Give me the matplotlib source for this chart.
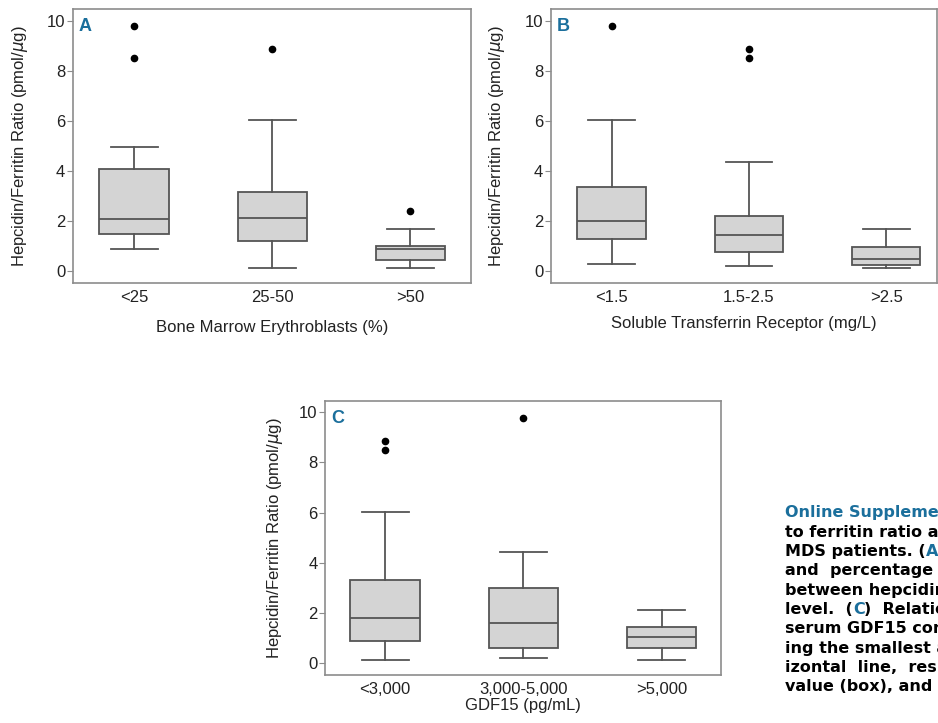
import matplotlib.pyplot as plt
from matplotlib import font_manager
import numpy as np

# Hepcidin/ferritin ratio by subgroup, three box plots (A, B, C) + caption fragment

ylabel = 'Hepcidin/Ferritin Ratio (pmol/$\\mu$g)'

# panel A - bone marrow erythroblasts
a_cats = ['<25', '25-50', '>50']
a_q1 = [1.49, 1.21, 0.44]
a_med = [2.09, 2.13, 0.87]
a_q3 = [4.06, 3.16, 0.99]
a_lo = [0.89, 0.13, 0.13]
a_hi = [4.95, 6.03, 1.70]
a_fliers = [[9.79, 8.50], [8.88], [2.40]]

# panel B - soluble transferrin receptor
b_cats = ['<1.5', '1.5-2.5', '>2.5']
b_q1 = [1.30, 0.75, 0.24]
b_med = [2.02, 1.46, 0.47]
b_q3 = [3.34, 2.21, 0.96]
b_lo = [0.29, 0.20, 0.13]
b_hi = [6.03, 4.37, 1.70]
b_fliers = [[9.79], [8.88, 8.50], []]

# panel C - GDF15
c_cats = ['<3,000', '3,000-5,000', '>5,000']
c_q1 = [0.90, 0.60, 0.60]
c_med = [1.82, 1.62, 1.04]
c_q3 = [3.32, 3.01, 1.43]
c_lo = [0.13, 0.21, 0.13]
c_hi = [6.02, 4.42, 2.11]
c_fliers = [[8.87, 8.50], [9.77], []]

BLUE = '#1b6f9c'
LINE = '#555555'
FILL = '#d4d4d4'
FRAME = '#8c8c8c'

# narrow font if there is one, else shrink the regular one
installed = {f.name for f in font_manager.fontManager.ttflist}
if 'Liberation Sans Narrow' in installed:
    FONT = 'Liberation Sans Narrow'
    TICK_FS, LABEL_FS, LETTER_FS = 14.5, 14.4, 16
else:
    FONT = 'Liberation Sans'
    TICK_FS, LABEL_FS, LETTER_FS = 12, 12, 13

plt.rcParams['font.family'] = [FONT, 'DejaVu Sans']


def panel(ax, cats, q1, med, q3, lo, hi, fliers, letter, xlabel, xlim, labelpad, ypad):
    stats = []
    for i in range(len(cats)):
        stats.append(dict(med=med[i], q1=q1[i], q3=q3[i], whislo=lo[i],
                          whishi=hi[i], fliers=fliers[i], label=cats[i]))
    ax.bxp(stats, positions=[1, 2, 3], widths=0.5, patch_artist=True,
           boxprops=dict(facecolor=FILL, edgecolor=LINE, linewidth=1.3),
           medianprops=dict(color=LINE, linewidth=1.3),
           whiskerprops=dict(color=LINE, linewidth=1.3),
           capprops=dict(color=LINE, linewidth=1.3), capwidths=0.34,
           flierprops=dict(marker='o', markerfacecolor='black',
                           markeredgecolor='black', markersize=4.5))
    ax.set_xlim(*xlim)
    ax.set_ylim(-0.47, 10.45)
    ax.set_yticks([0, 2, 4, 6, 8, 10])
    ax.set_ylabel(ylabel, fontsize=LABEL_FS, color='#222222', labelpad=ypad)
    ax.set_xlabel(xlabel, fontsize=LABEL_FS, color='#222222', labelpad=labelpad)
    ax.tick_params(axis='both', labelsize=TICK_FS, colors='#222222', length=4,
                   width=0.8, color=FRAME, pad=1.5)
    ax.tick_params(axis='x', length=0, pad=5)
    for s in ax.spines.values():
        s.set_color(FRAME)
        s.set_linewidth(1.2)
    ax.text(0.015, 0.968, letter, transform=ax.transAxes, fontsize=LETTER_FS,
            fontweight='bold', color=BLUE, va='top', ha='left')


fig = plt.figure(figsize=(9.38, 7.23), dpi=100)

ax_a = fig.add_axes([0.0778, 0.6086, 0.4244, 0.3786])
panel(ax_a, a_cats, a_q1, a_med, a_q3, a_lo, a_hi, a_fliers, 'A',
      'Bone Marrow Erythroblasts (%)', (0.558, 3.44), 11, 12)

ax_b = fig.add_axes([0.5874, 0.6086, 0.4115, 0.3786])
panel(ax_b, b_cats, b_q1, b_med, b_q3, b_lo, b_hi, b_fliers, 'B',
      'Soluble Transferrin Receptor (mg/L)', (0.558, 3.37), 8, 13)

ax_c = fig.add_axes([0.3465, 0.0664, 0.4222, 0.3790])
panel(ax_c, c_cats, c_q1, c_med, c_q3, c_lo, c_hi, c_fliers, 'C',
      'GDF15 (pg/mL)', (0.566, 3.43), 1, 10)

# caption fragment, cut off by the right edge of the page
ov = fig.add_axes([0, 0, 1, 1])
ov.axis('off')
ov.set_xlim(0, 938)
ov.set_ylim(723, 0)

cap_x = 785
cap_y0 = 513
cap_dy = 19.3
cap_kw = dict(fontsize=11.5, fontweight='bold', family=['DejaVu Sans'],
              va='center', ha='left')

ov.text(cap_x, cap_y0, 'Online Supplementary Figure', color=BLUE, **cap_kw)
ov.text(cap_x, cap_y0 + cap_dy, 'to ferritin ratio and', color='black', **cap_kw)
t = ov.text(cap_x, cap_y0 + 2 * cap_dy, 'MDS patients. (', color='black', **cap_kw)
ov.annotate('A)', xy=(1, 0.5), xycoords=t, color=BLUE, **cap_kw)
ov.text(cap_x, cap_y0 + 3 * cap_dy, 'and  percentage  of', color='black', **cap_kw)
ov.text(cap_x, cap_y0 + 4 * cap_dy, 'between hepcidin', color='black', **cap_kw)
t = ov.text(cap_x, cap_y0 + 5 * cap_dy, 'level.  (', color='black', **cap_kw)
t = ov.annotate('C', xy=(1, 0.5), xycoords=t, color=BLUE, **cap_kw)
ov.annotate(')  Relationship', xy=(1, 0.5), xycoords=t, color='black', **cap_kw)
ov.text(cap_x, cap_y0 + 6 * cap_dy, 'serum GDF15 concentration', color='black', **cap_kw)
ov.text(cap_x, cap_y0 + 7 * cap_dy, 'ing the smallest and', color='black', **cap_kw)
ov.text(cap_x, cap_y0 + 8 * cap_dy, 'izontal  line,  respectively', color='black', **cap_kw)
ov.text(cap_x, cap_y0 + 9 * cap_dy, 'value (box), and', color='black', **cap_kw)

fig.savefig('out.png', dpi=100)
